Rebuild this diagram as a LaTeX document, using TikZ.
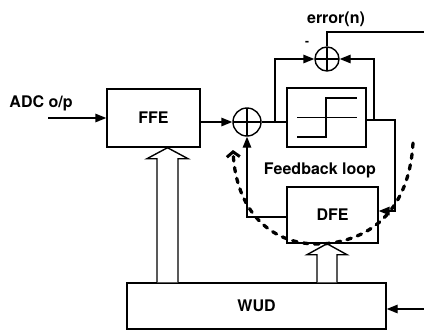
\documentclass[tikz,border=0pt]{standalone}
\usepackage{fontspec}
\setmainfont{TeX Gyre Heros}
\usetikzlibrary{arrows.meta}
\begin{document}
\begin{tikzpicture}[x=1pt,y=-1pt,line width=1.4pt,
  blk/.style={draw,rectangle,inner sep=0pt},
  lbl/.style={font=\fontsize{16}{19}\selectfont\bfseries,inner sep=0pt},
  sumc/.style={draw,circle,inner sep=0pt,minimum size=#1,
    path picture={\draw[line width=1.2pt] (path picture bounding box.north) -- (path picture bounding box.south)
      (path picture bounding box.west) -- (path picture bounding box.east);}},
  arr/.style={-{Triangle[length=11pt,width=8.5pt]}},
  hollow/.style={draw,line width=1.4pt,fill=white},
  loopline/.style={line width=3.3pt,line cap=round,dash pattern=on 4.5pt off 6.5pt,
    -{Straight Barb[length=5pt,width=13pt,line width=3pt]}}
]
\useasboundingbox[fill=white] (0,0) rectangle (424,330);

% blocks
\node[blk,lbl,minimum width=93pt,minimum height=58pt] (ffe) at (153.5,118) {FFE};
\node[blk,minimum width=79pt,minimum height=59pt] (q) at (326.5,117.5) {};
\node[blk,lbl,minimum width=91pt,minimum height=56pt] (dfe) at (332.5,215) {DFE};
\node[blk,lbl,minimum width=259pt,minimum height=46pt] (wud) at (256.5,306) {WUD};
\node[sumc=28pt] (s1) at (247,122) {};
\node[sumc=24pt] (s2) at (327,59) {};

% labels
\node[lbl] (adc) at (41,103) {ADC o/p};
\node[lbl] (err) at (336,19) {error(n)};
\node[lbl] (fb) at (320,170) {Feedback loop};
\node[lbl,font=\fontsize{12}{14}\selectfont\bfseries] (minus) at (307,43) {-};

% step symbol
\begin{scope}[shift={(q.center)}]
  \draw (-29.5,19.5) -- (-0.5,19.5) -- (-0.5,-19.5) -- (30.5,-19.5);
  \draw (-29.5,0) -- (30.5,0);
\end{scope}

% coordinates
\coordinate (adcin) at (48,118);
\coordinate (b1) at (275,122);
\coordinate (b2) at (374,120);
\coordinate (qc) at (395,211);
\coordinate (errout) at (424,32);
\coordinate (wudin) at (424,309);

% connectors
\draw[arr] (adcin) -- (ffe.west);
\draw[arr] (ffe.east |- s1.west) -- (s1.west);
\draw (s1.east) -- (s1.east -| q.west);
\draw[arr] (b1) |- (s2.west);
\draw[arr] (b2) |- (s2.east);
\draw[arr] (q.east |- b2) -| (qc) -- (qc -| dfe.east);
\draw (s2.north) |- (errout);
\draw[arr] ([yshift=-2pt]dfe.west) -| (s1.south);
\draw[arr] (wudin) -- (wudin -| wud.east);

% hollow arrows from WUD
\coordinate (t1) at ([xshift=14pt]ffe.south);
\coordinate (u1) at (t1 |- wud.north);
\draw[hollow] ([xshift=-10.5pt]u1) -- ([xshift=-10.5pt,yshift=-11pt]t1) -- ([xshift=-20.5pt,yshift=-11pt]t1)
  -- (t1) -- ([xshift=20.5pt,yshift=-11pt]t1) -- ([xshift=10.5pt,yshift=-11pt]t1) -- ([xshift=10.5pt]u1);
\coordinate (t2) at ([xshift=-5.5pt]dfe.south);
\coordinate (u2) at (t2 |- wud.north);
\draw[hollow] ([xshift=-10pt]u2) -- ([xshift=-10pt,yshift=-11pt]t2) -- ([xshift=-20pt,yshift=-11pt]t2)
  -- (t2) -- ([xshift=20pt,yshift=-11pt]t2) -- ([xshift=10pt,yshift=-11pt]t2) -- ([xshift=10pt]u2);

% dashed feedback loop
\draw[loopline] (413,143) .. controls (410,200) and (380,240) .. (322,244)
  .. controls (270,246) and (236,210) .. (233,150);
\end{tikzpicture}
\end{document}
